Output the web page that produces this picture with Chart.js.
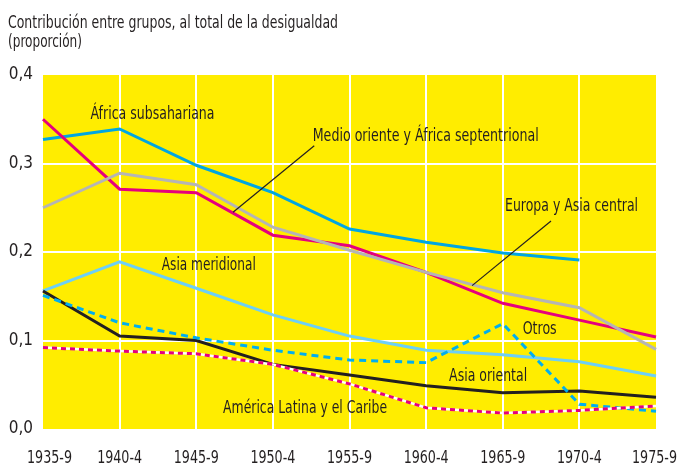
<!DOCTYPE html>
<html>
<head>
<meta charset="utf-8">
<script src="https://cdn.jsdelivr.net/npm/chart.js@4"></script>
<style>
  html, body { margin: 0; padding: 0; background: #fff; }
  #wrap { width: 678px; height: 465px; }
</style>
</head>
<body>
<div id="wrap"><canvas id="desigChart"></canvas></div>
<script>
const periods = ["1935-9", "1940-4", "1945-9", "1950-4", "1955-9", "1960-4", "1965-9", "1970-4", "1975-9"];
const africaSub = [0.327, 0.339, 0.298, 0.267, 0.226, 0.211, 0.199, 0.191, null];
const medioOriente = [0.350, 0.271, 0.267, 0.219, 0.207, 0.177, 0.142, 0.123, 0.104];
const europaAsia = [0.250, 0.289, 0.276, 0.228, 0.202, 0.177, 0.154, 0.137, 0.090];
const asiaMeridional = [0.156, 0.189, 0.159, 0.129, 0.105, 0.089, 0.084, 0.076, 0.060];
const otros = [0.151, 0.120, 0.103, 0.089, 0.078, 0.075, 0.119, 0.028, 0.020];
const asiaOriental = [0.156, 0.105, 0.100, 0.073, 0.061, 0.049, 0.041, 0.043, 0.036];
const americaLatina = [0.092, 0.088, 0.085, 0.073, 0.051, 0.024, 0.018, 0.021, 0.026];
const yTicks = [0, 0.1, 0.2, 0.3, 0.4];

const titleLines = ["Contribución entre grupos, al total de la desigualdad", "(proporción)"];
// label text, category position, value at baseline, target width
const seriesLabels = [
  { text: "África subsahariana", x: 0.62, y: 0.350, w: 124 },
  { text: "Medio oriente y África septentrional", x: 3.52, y: 0.325, w: 226 },
  { text: "Europa y Asia central", x: 6.03, y: 0.246, w: 133 },
  { text: "Asia meridional", x: 1.55, y: 0.180, w: 94 },
  { text: "Otros", x: 6.26, y: 0.107, w: 34 },
  { text: "Asia oriental", x: 5.30, y: 0.054, w: 78 },
  { text: "América Latina y el Caribe", x: 2.35, y: 0.018, w: 164 }
];
const pointers = [
  { x1: 3.54, y1: 0.320, x2: 2.48, y2: 0.245 },
  { x1: 6.63, y1: 0.235, x2: 5.60, y2: 0.162 }
];

const ink = "#231f20";
const fontName = "'DejaVu Sans Condensed', 'DejaVu Sans', sans-serif";

const decorPlugin = {
  id: "decor",
  beforeDraw(chart) {
    const { ctx, chartArea } = chart;
    ctx.save();
    ctx.fillStyle = "#ffed00";
    ctx.fillRect(chartArea.left, chartArea.top, chartArea.right - chartArea.left, chartArea.bottom - chartArea.top);
    ctx.fillStyle = ink;
    ctx.font = "18px " + fontName;
    ctx.textBaseline = "alphabetic";
    ctx.fillText(titleLines[0], 8, 28, 330);
    ctx.fillText(titleLines[1], 8, 47, 74);
    ctx.restore();
  },
  beforeDatasetDraw(chart, args) {
    // white line under the dotted pink series
    const ds = chart.data.datasets[args.index];
    if (!ds.whiteUnder) return;
    const pts = args.meta.data;
    const ctx = chart.ctx;
    ctx.save();
    ctx.strokeStyle = "#ffffff";
    ctx.lineWidth = 2.5;
    ctx.beginPath();
    pts.forEach((p, i) => i ? ctx.lineTo(p.x, p.y) : ctx.moveTo(p.x, p.y));
    ctx.stroke();
    ctx.restore();
  },
  afterDraw(chart) {
    const { ctx } = chart;
    const xs = chart.scales.x, ys = chart.scales.y;
    ctx.save();
    ctx.strokeStyle = ink;
    ctx.lineWidth = 1.2;
    pointers.forEach(p => {
      ctx.beginPath();
      ctx.moveTo(xs.getPixelForValue(p.x1), ys.getPixelForValue(p.y1));
      ctx.lineTo(xs.getPixelForValue(p.x2), ys.getPixelForValue(p.y2));
      ctx.stroke();
    });
    ctx.fillStyle = ink;
    ctx.font = "18px " + fontName;
    ctx.textBaseline = "alphabetic";
    seriesLabels.forEach(l => {
      ctx.fillText(l.text, xs.getPixelForValue(l.x), ys.getPixelForValue(l.y), l.w);
    });
    // category labels, condensed, kept inside the canvas
    const w = 45;
    periods.forEach((p, i) => {
      let left = xs.getPixelForTick(i) - w / 2;
      left = Math.max(27, Math.min(left, chart.width - 1 - w));
      ctx.fillText(p, left, xs.bottom - 2, w);
    });
    ctx.restore();
  }
};

function line(label, data, color, extra) {
  return Object.assign({
    label: label,
    data: data,
    borderColor: color,
    borderWidth: 3,
    pointRadius: 0,
    tension: 0,
    fill: false
  }, extra || {});
}

new Chart(document.getElementById("desigChart"), {
  type: "line",
  data: {
    labels: periods,
    datasets: [
      line("América Latina y el Caribe", americaLatina, "#e5007e", { borderDash: [5, 4], whiteUnder: true }),
      line("Otros", otros, "#00aeef", { borderDash: [7, 5] }),
      line("Asia oriental", asiaOriental, ink),
      line("Asia meridional", asiaMeridional, "#6dcff6"),
      line("Europa y Asia central", europaAsia, "#b5b5b5"),
      line("Medio oriente y África septentrional", medioOriente, "#e5007e"),
      line("África subsahariana", africaSub, "#00a6e2")
    ]
  },
  options: {
    responsive: true,
    maintainAspectRatio: false,
    animation: false,
    layout: { padding: { left: 8, top: 75, right: 22, bottom: 0 } },
    plugins: {
      legend: { display: false },
      tooltip: { enabled: false }
    },
    scales: {
      x: {
        offset: false,
        border: { display: false },
        afterFit(scale) { scale.height = 36; scale.paddingLeft = 0; scale.paddingRight = 0; },
        grid: {
          drawTicks: false,
          lineWidth: 2,
          color: ctx => (ctx.index === 0 || ctx.index === periods.length - 1) ? "rgba(0,0,0,0)" : "#ffffff"
        },
        ticks: { display: false, autoSkip: false, maxRotation: 0 }
      },
      y: {
        min: 0,
        max: 0.4,
        border: { display: false },
        afterFit(scale) { scale.width = 35; scale.paddingTop = 0; scale.paddingBottom = 0; },
        afterBuildTicks(scale) { scale.ticks = yTicks.map(v => ({ value: v })); },
        grid: {
          drawTicks: false,
          lineWidth: 2,
          color: ctx => (ctx.tick && (ctx.tick.value === 0 || ctx.tick.value === 0.4)) ? "rgba(0,0,0,0)" : "#ffffff"
        },
        ticks: {
          color: ink,
          padding: 10,
          font: { family: fontName, size: 17 },
          callback: v => v.toFixed(1).replace(".", ",")
        }
      }
    }
  },
  plugins: [decorPlugin]
});
</script>
</body>
</html>
